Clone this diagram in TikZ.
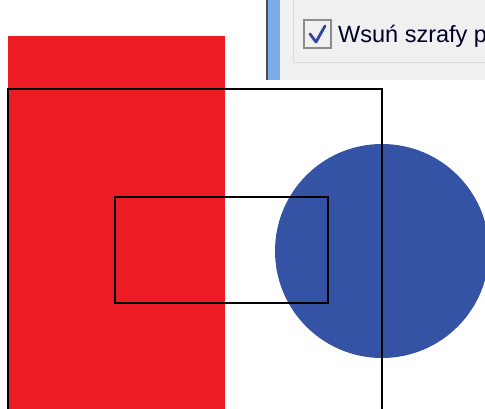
\documentclass[tikz,border=0pt]{standalone}
\usepackage{fontspec}
\setmainfont{Liberation Sans}
\definecolor{paintred}{RGB}{237,28,36}
\definecolor{paintblue}{RGB}{52,83,164}
\definecolor{panelgray}{RGB}{240,240,240}
\definecolor{stripblue}{RGB}{122,172,232}
\definecolor{checkblue}{RGB}{50,70,160}
\begin{document}
\begin{tikzpicture}[x=1pt,y=-1pt]
\useasboundingbox (0,0) rectangle (485,409);
\clip (0,0) rectangle (485,409);
\fill[paintred] (8,36) rectangle (225,409);
\fill[paintblue] (382,251) circle (107);
\draw[line width=2.8pt] (8,409) -- (8,89) -- (382,89) -- (382,409);
\draw[line width=2.8pt] (115,197) rectangle (328,303);
% dialog piece
\fill[panelgray] (266,0) rectangle (485,80);
\fill[black!70] (266,0) rectangle (267.5,80);
\fill[stripblue] (267.5,0) rectangle (280,80);
\draw[line width=0.8pt, black!15] (293,0) -- (293,62) -- (485,62);
\draw[line width=1.6pt, black!45, fill=black!6] (304,20) rectangle (331,48);
\draw[line width=2.8pt, checkblue, line cap=round, line join=round] (310,34) -- (316,42) -- (325,26);
\node[anchor=base west, inner sep=0pt, font=\fontsize{23.5}{26}\selectfont, text=black!85!blue] (chk) at (338,43) {Wsuń szrafy p};
\end{tikzpicture}
\end{document}
